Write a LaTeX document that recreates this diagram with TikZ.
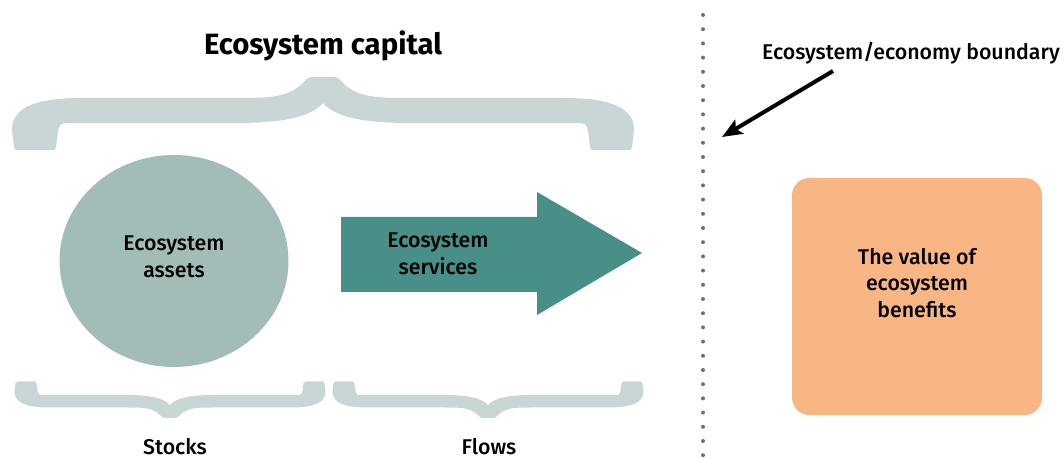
\documentclass[tikz,border=0pt]{standalone}
\usepackage{xcolor}
\usepackage{fontspec}
\setmainfont{Fira Sans}[UprightFont={* Medium},BoldFont={* Bold}]
\usepackage{tikz}
\usetikzlibrary{arrows.meta,shapes.geometric}

\definecolor{bracecol}{HTML}{C8D7D5}
\definecolor{assetcol}{HTML}{A2BDB8}
\definecolor{servcol}{HTML}{478F87}
\definecolor{valuecol}{HTML}{F8B684}
\definecolor{dotcol}{HTML}{707070}

% curly brace, tip at (0,0), stubs 73 below
\newcommand{\bracepath}{(-305,73) -- (-271,73) .. controls (-268,73) .. (-267,70)
  -- (-265,54) .. controls (-264,48) and (-262,46) .. (-255,46) -- (-88,46)
  .. controls (-43,46) and (-13,41) .. (0,26)
  .. controls (13,41) and (43,46) .. (88,46) -- (255,46)
  .. controls (262,46) and (264,48) .. (265,54) -- (267,70)
  .. controls (268,73) .. (271,73) -- (305,73) .. controls (308,73) .. (309,70)
  -- (311,53) .. controls (311,33) and (293,21) .. (241,21) -- (83,21)
  .. controls (53,21) and (33,20) .. (19,5) .. controls (16,1) and (14,0) .. (10,0)
  -- (-10,0) .. controls (-14,0) and (-16,1) .. (-19,5)
  .. controls (-33,20) and (-53,21) .. (-83,21) -- (-241,21)
  .. controls (-293,21) and (-311,33) .. (-311,53)
  -- (-309,70) .. controls (-308,73) .. (-305,73) -- cycle}

\begin{document}
\begin{tikzpicture}[x=0.75pt,y=-0.75pt,
  txt/.style={align=center,font=\fontsize{16}{20}\selectfont,inner sep=0pt},
  assetnode/.style={ellipse,fill=assetcol,minimum width=171.75pt,minimum height=159pt,inner sep=0pt},
  valuebox/.style={fill=valuecol,rounded corners=13pt,minimum width=187.5pt,minimum height=177.75pt,inner sep=0pt}]
\useasboundingbox (0,0) rectangle (1064,459);
  \node[font=\fontsize{22}{26}\selectfont\bfseries,inner sep=0pt] (capital) at (323,46) {Ecosystem capital};
  \begin{scope}[shift={(323,77)}]
    \fill[bracecol] \bracepath;
  \end{scope}
  \begin{scope}[shift={(170,418)},xscale=0.5,yscale=-0.5]
    \fill[bracecol] \bracepath;
  \end{scope}
  \begin{scope}[shift={(488,418)},xscale=0.5,yscale=-0.5]
    \fill[bracecol] \bracepath;
  \end{scope}
  \node[assetnode] (assets) at (174,261) {};
  \node[txt] (assetstxt) at (174,256.5) {Ecosystem\\assets};
  \fill[servcol] (341,217) -- (537,217) -- (537,192) -- (642,253) -- (537,315) -- (537,292) -- (341,292) -- cycle;
  \node[txt] (services) at (438,254) {Ecosystem\\services};
  \node[font=\fontsize{16}{20}\selectfont,inner sep=0pt,anchor=base] (stocks) at (175,455) {Stocks};
  \node[font=\fontsize{16}{20}\selectfont,inner sep=0pt,anchor=base] (flows) at (489,455) {Flows};
  \foreach \k in {0,...,31}
    \fill[dotcol] (703,15+14.2*\k) circle (1.5pt);
  \node[txt] (bnd) at (911,53) {Ecosystem/economy boundary};
  \coordinate (bndend) at (722,137);
  \draw[line width=3pt,-{Stealth[length=15pt,width=12pt,inset=3pt]}] (833,71) -- (bndend);
  \node[valuebox] (value) at (917,296.5) {};
  \node[txt] (valuetxt) at (917,283) {The value of\\ecosystem\\benefits};
\end{tikzpicture}
\end{document}
